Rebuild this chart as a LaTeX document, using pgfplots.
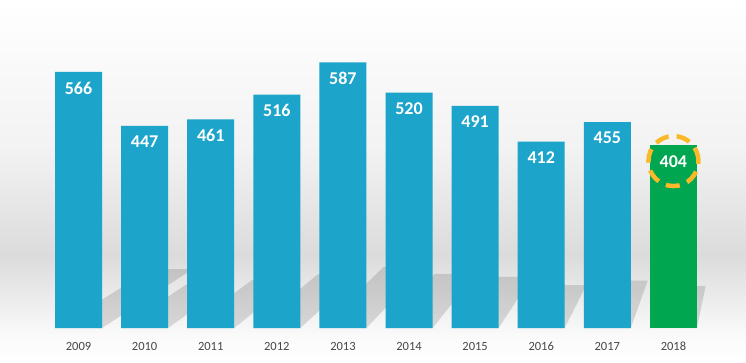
\documentclass[border=0pt]{standalone}
\usepackage{pgfplots}
\pgfplotsset{compat=1.18}
\usepackage{fontspec}
\setmainfont{Carlito}
\definecolor{barblue}{HTML}{1CA4CA}
\definecolor{bargreen}{HTML}{00A650}
\definecolor{ring}{HTML}{FBB829}
\begin{document}
\begin{tikzpicture}
\clip (0,0) rectangle (746bp,363bp);
\fill[top color=white, bottom color=black!5] (0,213bp) rectangle (746bp,363bp);
\fill[top color=black!5, bottom color=black!14] (0,108bp) rectangle (746bp,213bp);
\fill[top color=black!14, bottom color=black!2] (0,28bp) rectangle (746bp,108bp);
\fill[top color=black!2, bottom color=white] (0,0) rectangle (746bp,28bp);
\begin{axis}[at={(0,0)}, anchor=south west, scale only axis,
  width=746bp, height=363bp,
  xmin=-1.188, xmax=10.098, ymin=-77.3, ymax=725,
  /pgf/number format/assume math mode=true,
  axis line style={draw=none}, major tick length=0pt,
  ytick=\empty, xtick={0,...,9},
  xticklabels={2009,2010,2011,2012,2013,2014,2015,2016,2017,2018},
  xticklabel style={anchor=center, yshift=17bp, text=black!72,
    font=\fontsize{12.5bp}{12.5bp}\selectfont},
  clip=false]
% perspective shadows on the floor
\fill[black, opacity=0.13] (axis cs:-0.355,0) -- (axis cs:0.355,0) -- (axis cs:1.727,130.2) -- (axis cs:1.110,130.2) -- cycle;
\fill[black, opacity=0.13] (axis cs:0.645,0) -- (axis cs:1.355,0) -- (axis cs:2.334,102.8) -- (axis cs:1.698,102.8) -- cycle;
\fill[black, opacity=0.13] (axis cs:1.645,0) -- (axis cs:2.355,0) -- (axis cs:3.257,106.0) -- (axis cs:2.623,106.0) -- cycle;
\fill[black, opacity=0.13] (axis cs:2.645,0) -- (axis cs:3.355,0) -- (axis cs:4.245,118.7) -- (axis cs:3.620,118.7) -- cycle;
\fill[black, opacity=0.13] (axis cs:3.645,0) -- (axis cs:4.355,0) -- (axis cs:5.231,135.0) -- (axis cs:4.618,135.0) -- cycle;
\fill[black, opacity=0.13] (axis cs:4.645,0) -- (axis cs:5.355,0) -- (axis cs:6.010,119.6) -- (axis cs:5.386,119.6) -- cycle;
\fill[black, opacity=0.13] (axis cs:5.645,0) -- (axis cs:6.355,0) -- (axis cs:6.859,112.9) -- (axis cs:6.230,112.9) -- cycle;
\fill[black, opacity=0.13] (axis cs:6.645,0) -- (axis cs:7.355,0) -- (axis cs:7.682,94.8) -- (axis cs:7.040,94.8) -- cycle;
\fill[black, opacity=0.13] (axis cs:7.645,0) -- (axis cs:8.355,0) -- (axis cs:8.610,104.7) -- (axis cs:7.975,104.7) -- cycle;
\fill[black, opacity=0.13] (axis cs:8.645,0) -- (axis cs:9.355,0) -- (axis cs:9.488,92.9) -- (axis cs:8.844,92.9) -- cycle;
% bars
\addplot[ybar, bar width=47bp, bar shift=0pt, fill=barblue, draw=none,
  nodes near coords,
  every node near coord/.append style={anchor=north, yshift=-6.5bp, text=white,
    font=\bfseries\fontsize{18bp}{18bp}\selectfont}]
  coordinates {(0,566) (1,447) (2,461) (3,516) (4,587) (5,520) (6,491) (7,412) (8,455)};
\addplot[ybar, bar width=47bp, bar shift=0pt, fill=bargreen, draw=none,
  nodes near coords,
  every node near coord/.append style={anchor=north, yshift=-6.5bp, text=white,
    font=\bfseries\fontsize{18bp}{18bp}\selectfont}]
  coordinates {(9,404)};
\draw[ring, line width=4.5bp, dash pattern=on 14bp off 8bp] (axis cs:9,369) circle [radius=25bp];
\end{axis}
\end{tikzpicture}
\end{document}
